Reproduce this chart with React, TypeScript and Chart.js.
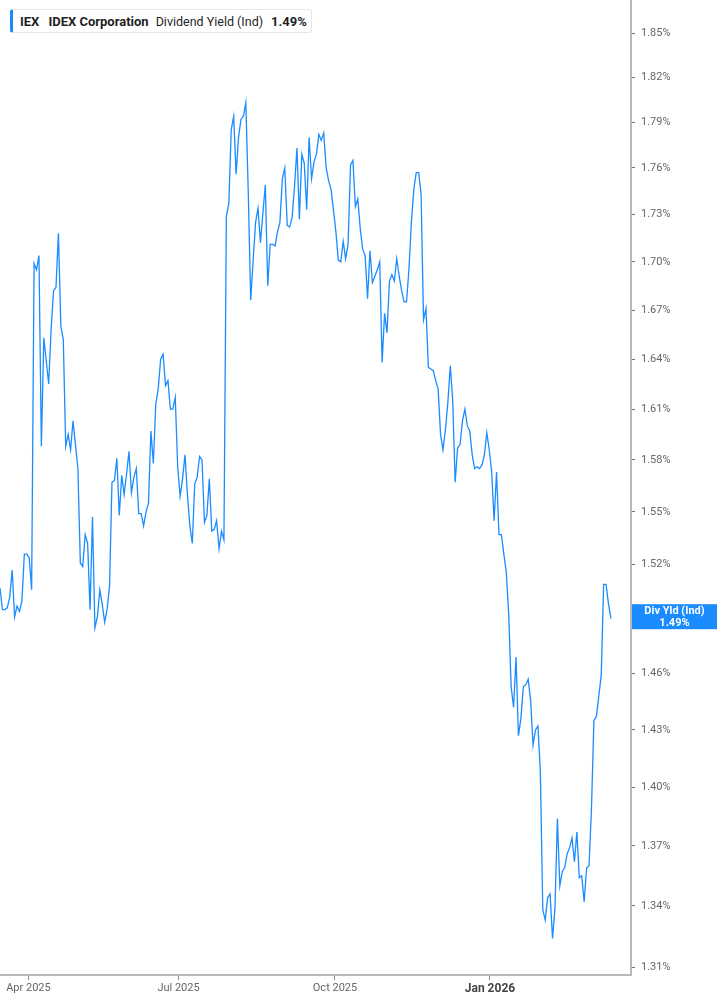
import React, { useEffect, useRef } from 'react';
import { Chart, registerables } from 'chart.js';

Chart.register(...registerables);

// Daily dividend yield (%), one value per trading day
const yieldValues = [
  1.507, 1.495, 1.495, 1.496, 1.502, 1.517, 1.491, 1.497, 1.494, 1.500,
  1.526, 1.526, 1.524, 1.506, 1.699, 1.695, 1.704, 1.588, 1.653, 1.639,
  1.625, 1.658, 1.682, 1.684, 1.718, 1.660, 1.652, 1.588, 1.595, 1.586,
  1.603, 1.589, 1.575, 1.521, 1.519, 1.537, 1.532, 1.495, 1.547, 1.485,
  1.491, 1.506, 1.498, 1.488, 1.495, 1.508, 1.567, 1.568, 1.581, 1.548,
  1.571, 1.560, 1.572, 1.585, 1.561, 1.570, 1.575, 1.549, 1.549, 1.542,
  1.550, 1.555, 1.597, 1.578, 1.613, 1.622, 1.640, 1.643, 1.624, 1.627,
  1.610, 1.610, 1.617, 1.576, 1.559, 1.569, 1.583, 1.560, 1.542, 1.532,
  1.566, 1.570, 1.582, 1.580, 1.544, 1.548, 1.569, 1.539, 1.540, 1.545,
  1.529, 1.539, 1.534, 1.729, 1.737, 1.785, 1.794, 1.756, 1.780, 1.792,
  1.794, 1.803, 1.744, 1.676, 1.701, 1.725, 1.734, 1.712, 1.731, 1.749,
  1.685, 1.711, 1.711, 1.710, 1.719, 1.725, 1.753, 1.760, 1.723, 1.722,
  1.728, 1.748, 1.773, 1.727, 1.769, 1.763, 1.733, 1.780, 1.753, 1.764,
  1.769, 1.782, 1.778, 1.783, 1.760, 1.752, 1.746, 1.733, 1.719, 1.701,
  1.700, 1.713, 1.702, 1.711, 1.762, 1.765, 1.735, 1.740, 1.721, 1.708,
  1.704, 1.677, 1.707, 1.687, 1.691, 1.695, 1.700, 1.638, 1.668, 1.656,
  1.688, 1.692, 1.688, 1.702, 1.691, 1.682, 1.675, 1.675, 1.695, 1.725,
  1.746, 1.757, 1.757, 1.743, 1.664, 1.671, 1.635, 1.634, 1.633, 1.627,
  1.622, 1.595, 1.586, 1.598, 1.614, 1.636, 1.615, 1.567, 1.587, 1.589,
  1.603, 1.610, 1.600, 1.597, 1.583, 1.575, 1.576, 1.575, 1.577, 1.583,
  1.596, 1.586, 1.573, 1.545, 1.573, 1.537, 1.537, 1.526, 1.516, 1.492,
  1.453, 1.442, 1.469, 1.427, 1.436, 1.453, 1.454, 1.457, 1.446, 1.422,
  1.430, 1.432, 1.408, 1.338, 1.333, 1.344, 1.346, 1.324, 1.339, 1.384,
  1.350, 1.357, 1.359, 1.366, 1.369, 1.374, 1.362, 1.377, 1.354, 1.355,
  1.342, 1.359, 1.360, 1.389, 1.435, 1.437, 1.448, 1.459, 1.509, 1.509,
  1.498, 1.490,
];

// Month tick labels and their positions (in trading-day index units)
const monthLabels = ['Apr 2025', 'Jul 2025', 'Oct 2025', 'Jan 2026'];
const monthTickPositions = [11.67, 73.34, 137.63, 201.3];
const boldMonthLabel = 'Jan 2026';

// Right axis tick values (%)
const yTickValues = [
  1.31, 1.34, 1.37, 1.4, 1.43, 1.46, 1.49, 1.52, 1.55, 1.58,
  1.61, 1.64, 1.67, 1.7, 1.73, 1.76, 1.79, 1.82, 1.85,
];

const yMin = 1.3062;
const yMax = 1.8727;
const xMin = 0;
const xMax = 259.24;

const currentYield = 1.49;
const ticker = 'IEX';
const company = 'IDEX Corporation';
const metric = 'Dividend Yield (Ind)';
const badgeLabel = 'Div Yld (Ind)';

const LINE = '#1a8cff';
const FONT = 'Roboto, "Noto Sans", Arial, sans-serif';

export default function App() {
  const ref = useRef<HTMLCanvasElement | null>(null);

  useEffect(() => {
    if (!ref.current) return;

    const badgePlugin = {
      id: 'badge',
      afterDraw(chart: any) {
        const { ctx, chartArea, scales } = chart;
        const y = scales.y.getPixelForValue(currentYield);
        const x0 = chartArea.right + 1;
        const w = chart.width - x0;
        ctx.save();
        ctx.fillStyle = LINE;
        ctx.fillRect(x0, y - 14.5, w, 25);
        ctx.fillStyle = '#ffffff';
        ctx.font = `bold 11px ${FONT}`;
        ctx.textAlign = 'center';
        ctx.textBaseline = 'middle';
        const cx = x0 + w / 2;
        ctx.fillText(badgeLabel, cx, y - 7);
        ctx.fillText(currentYield.toFixed(2) + '%', cx, y + 4.5);
        ctx.restore();
      },
    };

    const chart = new Chart(ref.current, {
      type: 'line',
      data: {
        datasets: [
          {
            data: yieldValues.map((v, i) => ({ x: i, y: v })),
            borderColor: LINE,
            borderWidth: 1.3,
            pointRadius: 0,
            tension: 0,
            fill: false,
          },
        ],
      },
      options: {
        animation: false,
        responsive: false,
        maintainAspectRatio: false,
        layout: { padding: 0 },
        plugins: {
          legend: { display: false },
          tooltip: { enabled: false },
        },
        scales: {
          x: {
            type: 'linear',
            min: xMin,
            max: xMax,
            afterBuildTicks: (s: any) => {
              s.ticks = monthTickPositions.map((v) => ({ value: v }));
            },
            afterFit: (s: any) => {
              s.height = 30;
              s.paddingLeft = 0;
              s.paddingRight = 0;
            },
            grid: {
              display: true,
              drawOnChartArea: false,
              drawTicks: true,
              tickLength: 5,
              tickColor: '#888',
              lineWidth: 1,
            },
            border: { display: true, color: '#b8b8b8', width: 2 },
            ticks: {
              autoSkip: false,
              maxRotation: 0,
              minRotation: 0,
              padding: 2,
              color: (c: any) =>
                monthLabels[c.index] === boldMonthLabel ? '#444' : '#666',
              font: (c: any) =>
                monthLabels[c.index] === boldMonthLabel
                  ? { family: FONT, size: 12, weight: 'bold' }
                  : { family: FONT, size: 11 },
              callback: (_v: any, i: number) => monthLabels[i],
            },
          },
          y: {
            type: 'logarithmic',
            position: 'right',
            min: yMin,
            max: yMax,
            afterBuildTicks: (s: any) => {
              s.ticks = yTickValues.map((v) => ({ value: v }));
            },
            afterFit: (s: any) => {
              s.width = 86;
              s.paddingTop = 0;
              s.paddingBottom = 0;
            },
            grid: {
              display: true,
              drawOnChartArea: false,
              drawTicks: true,
              tickLength: 4,
              tickColor: '#777',
              lineWidth: 1,
            },
            border: { display: true, color: '#b8b8b8', width: 2 },
            ticks: {
              padding: 6,
              color: '#666',
              font: { family: FONT, size: 11 },
              callback: (v: any) => Number(v).toFixed(2) + '%',
            },
          },
        },
      },
      plugins: [badgePlugin],
    } as any);

    return () => chart.destroy();
  }, []);

  return (
    <div
      style={{
        position: 'fixed',
        left: 0,
        top: 0,
        width: 717,
        height: 1005,
        background: '#ffffff',
      }}
    >
      <canvas ref={ref} width={717} height={1005} style={{ display: 'block' }} />
      <div
        style={{
          position: 'absolute',
          left: 10,
          top: 9,
          height: 24,
          width: 302,
          boxSizing: 'border-box',
          border: '1px solid #e6e6e6',
          borderLeft: `3px solid ${LINE}`,
          borderRadius: 3,
          background: '#fff',
          display: 'flex',
          alignItems: 'center',
          paddingLeft: 7,
          fontFamily: FONT,
          fontSize: 13,
          color: '#1f1f1f',
          whiteSpace: 'nowrap',
        }}
      >
        <span style={{ fontWeight: 700, marginRight: 9 }}>{ticker}</span>
        <span style={{ fontWeight: 700, marginRight: 7 }}>{company}</span>
        <span style={{ fontWeight: 400, fontSize: 12.5, marginRight: 8 }}>{metric}</span>
        <span style={{ fontWeight: 700 }}>{currentYield.toFixed(2) + '%'}</span>
      </div>
    </div>
  );
}
